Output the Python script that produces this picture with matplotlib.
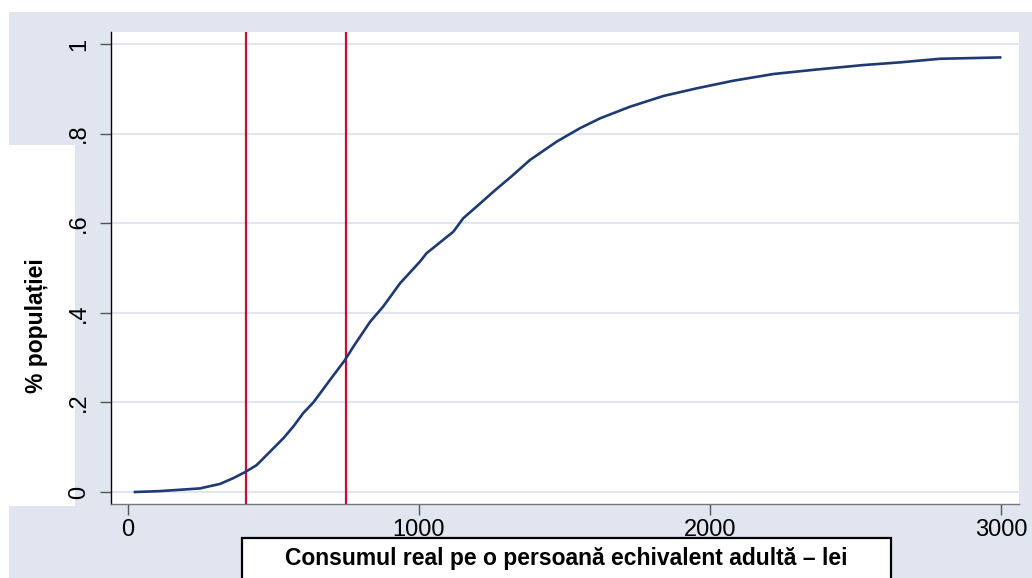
import matplotlib
matplotlib.use("Agg")
import matplotlib.pyplot as plt
from matplotlib.patches import Rectangle

# CDF of real consumption per adult equivalent
consum = [24, 110, 247, 316, 362, 404, 442, 488, 534, 568, 602, 637, 660, 694,
          746, 774, 832, 877, 935, 1003, 1026, 1118, 1152, 1210, 1255, 1324, 1381,
          1473, 1553, 1622, 1725, 1840, 1954, 2080, 2218, 2366, 2527, 2653, 2790, 2997]
share = [0.000, 0.002, 0.008, 0.018, 0.031, 0.045, 0.060, 0.090, 0.120, 0.146,
         0.176, 0.200, 0.220, 0.250, 0.295, 0.324, 0.380, 0.414, 0.466, 0.514,
         0.533, 0.581, 0.611, 0.644, 0.670, 0.708, 0.741, 0.782, 0.812, 0.834,
         0.860, 0.884, 0.901, 0.918, 0.933, 0.943, 0.953, 0.959, 0.967, 0.970]
poverty_lines = [404, 748]

xticks = [0, 1000, 2000, 3000]
xticklabels = ["0", "1000", "2000", "3000"]
yticks = [0, 0.2, 0.4, 0.6, 0.8, 1.0]
yticklabels = ["0", ".2", ".4", ".6", ".8", "1"]

xlabel = "Consumul real pe o persoană echivalent adultă – lei"
ylabel = "% populației"

BG = "#E0E5EF"
GRID = "#DDE3EE"
NAVY = "#1F3A70"
RED = "#CC0A36"

W, H = 1032, 578
fig = plt.figure(figsize=(W / 100, H / 100), dpi=100, facecolor="white")
plt.rcParams['font.family'] = ['Liberation Sans', 'DejaVu Sans']

# gray background panel
fig.patches.append(Rectangle((9 / W, 0), 1 - 9 / W, (H - 12) / H,
                             transform=fig.transFigure, facecolor=BG,
                             edgecolor="none", zorder=0))
# white region behind y label
fig.patches.append(Rectangle((9 / W, (H - 506) / H), 66 / W, 361 / H,
                             transform=fig.transFigure, facecolor="white",
                             edgecolor="none", zorder=1))
# white boxed region behind x label
fig.patches.append(Rectangle((242 / W, -0.05), (891 - 242) / W, 0.05 + (H - 538) / H,
                             transform=fig.transFigure, facecolor="white",
                             edgecolor="black", linewidth=1.6, zorder=1))

ax = fig.add_axes([111 / W, (H - 504) / H, (1019 - 111) / W, (504 - 32) / H])
ax.set_facecolor("white")
ax.set_zorder(2)

x0_px, k = 128, 0.291
ax.set_xlim((111 - x0_px) / k, (1019 - x0_px) / k)
ax.set_ylim(-12 / 448, 1 + 12 / 448)

ax.set_yticks(yticks)
ax.set_yticklabels(yticklabels, rotation=90, va="center")
ax.set_xticks(xticks)
ax.set_xticklabels(xticklabels)
ax.yaxis.grid(True, color=GRID, linewidth=1.3)
ax.set_axisbelow(True)

for s in ["top", "right"]:
    ax.spines[s].set_visible(False)
ax.spines["left"].set_color("black")
ax.spines["left"].set_linewidth(1.0)
ax.spines["bottom"].set_color("#777777")
ax.spines["bottom"].set_linewidth(1.0)

ax.tick_params(axis="y", length=8, width=1, color="#555555", pad=7, labelsize=17)
ax.tick_params(axis="x", length=8, width=1, color="#555555", pad=3, labelsize=17)

for v in poverty_lines:
    ax.axvline(v, color=RED, linewidth=1.6, zorder=3)
ax.plot(consum, share, color=NAVY, linewidth=1.9, zorder=4)

fig.text(566 / W, (H - 559) / H, xlabel, ha="center", va="center",
         fontsize=16.5, fontweight="bold", zorder=3)
fig.text(36 / W, (H - 326) / H, ylabel, ha="center", va="center",
         rotation=90, fontsize=16.5, fontweight="bold", zorder=3)

fig.savefig("out.png", dpi=100, facecolor="white")
